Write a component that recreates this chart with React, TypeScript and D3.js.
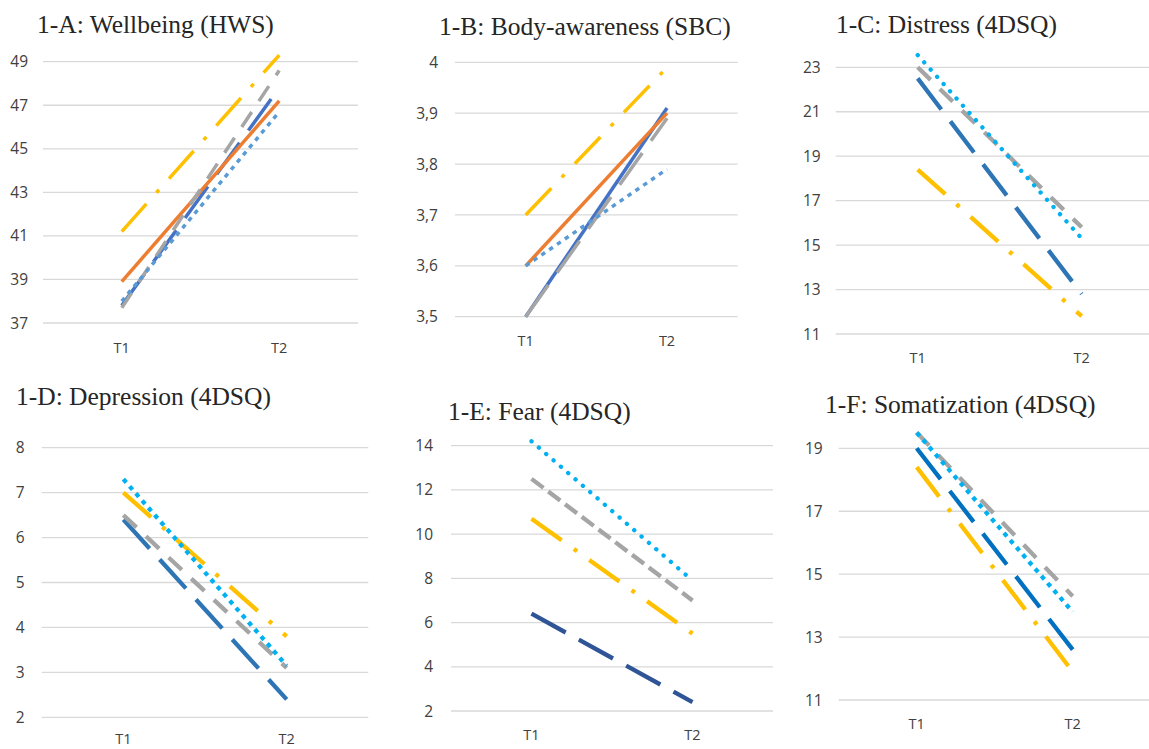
import * as d3 from "d3";

const periods = ["T1", "T2"];

// 1-A: Wellbeing (HWS)
const hwsBlue = [37.8, 47.8];
const hwsOrange = [38.9, 47.2];
const hwsGray = [37.7, 48.6];
const hwsYellow = [41.2, 49.3];
const hwsLightBlue = [38.0, 46.7];
const hwsTicks = [37, 39, 41, 43, 45, 47, 49];

// 1-B: Body-awareness (SBC)
const sbcBlue = [3.5, 3.91];
const sbcOrange = [3.6, 3.9];
const sbcGray = [3.5, 3.89];
const sbcYellow = [3.7, 3.99];
const sbcLightBlue = [3.6, 3.79];
const sbcTicks = [3.5, 3.6, 3.7, 3.8, 3.9, 4.0];

// 1-C: Distress (4DSQ)
const distressBlue = [22.5, 12.8];
const distressGray = [23.0, 15.8];
const distressYellow = [18.4, 11.8];
const distressLightBlue = [23.55, 15.3];
const distressTicks = [11, 13, 15, 17, 19, 21, 23];

// 1-D: Depression (4DSQ)
const depressionBlue = [6.4, 2.4];
const depressionGray = [6.5, 3.1];
const depressionYellow = [7.0, 3.8];
const depressionLightBlue = [7.3, 3.15];
const depressionTicks = [2, 3, 4, 5, 6, 7, 8];

// 1-E: Fear (4DSQ)
const fearBlue = [6.4, 2.4];
const fearGray = [12.5, 7.0];
const fearYellow = [10.7, 5.5];
const fearLightBlue = [14.2, 7.9];
const fearTicks = [2, 4, 6, 8, 10, 12, 14];

// 1-F: Somatization (4DSQ)
const somBlue = [19.0, 12.6];
const somGray = [19.5, 14.3];
const somYellow = [18.4, 11.9];
const somLightBlue = [19.5, 13.8];
const somTicks = [11, 13, 15, 17, 19];

// excel-ish dash patterns
const DASH = {
  lgDash: "39,15",
  dash: "18,13",
  sysDash: "15,6",
  lgDashDot: "37,15,4,15",
  sysDot: "4.5,5",
  roundDot: "0.1,9.6",
};

const serif = "'Liberation Serif', 'DejaVu Serif', serif";
const sans = "'Open Sans', 'Noto Sans', sans-serif";

type Series = { values: number[]; color: string; dash?: string; cap?: "butt" | "round" };

type Panel = {
  title: string;
  titleX: number;
  titleY: number;
  x0: number;
  x1: number;
  yTop: number;
  yBottom: number;
  domain: [number, number];
  ticks: number[];
  labelGap: number;
  catGap: number;
  width: number;
  comma?: boolean;
  series: Series[];
};

const panels: Panel[] = [
  {
    title: "1-A: Wellbeing (HWS)",
    titleX: 37, titleY: 33,
    x0: 43, x1: 358, yTop: 61.7, yBottom: 323,
    domain: [37, 49], ticks: hwsTicks, labelGap: 15, catGap: 30, width: 3.5,
    series: [
      { values: hwsBlue, color: "#4472C4", dash: DASH.lgDash },
      { values: hwsOrange, color: "#ED7D31" },
      { values: hwsGray, color: "#A5A5A5", dash: DASH.dash },
      { values: hwsYellow, color: "#FFC000", dash: DASH.lgDashDot },
      { values: hwsLightBlue, color: "#5B9BD5", dash: DASH.sysDot },
    ],
  },
  {
    title: "1-B: Body-awareness (SBC)",
    titleX: 439, titleY: 35,
    x0: 455, x1: 737.7, yTop: 62.3, yBottom: 316.7,
    domain: [3.5, 4.0], ticks: sbcTicks, labelGap: 17, catGap: 29, width: 3.5, comma: true,
    series: [
      { values: sbcBlue, color: "#4472C4" },
      { values: sbcOrange, color: "#ED7D31" },
      { values: sbcGray, color: "#A5A5A5", dash: DASH.lgDash },
      { values: sbcYellow, color: "#FFC000", dash: DASH.lgDashDot },
      { values: sbcLightBlue, color: "#5B9BD5", dash: DASH.sysDot },
    ],
  },
  {
    title: "1-C: Distress (4DSQ)",
    titleX: 836, titleY: 33,
    x0: 835.7, x1: 1163.7, yTop: 67.3, yBottom: 334,
    domain: [11, 23], ticks: distressTicks, labelGap: 15, catGap: 29, width: 4.3,
    series: [
      { values: distressBlue, color: "#2E75B6", dash: DASH.lgDash },
      { values: distressGray, color: "#A5A5A5", dash: DASH.dash },
      { values: distressYellow, color: "#FFC000", dash: DASH.lgDashDot },
      { values: distressLightBlue, color: "#00B0F0", dash: DASH.roundDot, cap: "round" },
    ],
  },
  {
    title: "1-D: Depression (4DSQ)",
    titleX: 16, titleY: 405,
    x0: 41.7, x1: 368.3, yTop: 447.7, yBottom: 717.3,
    domain: [2, 8], ticks: depressionTicks, labelGap: 17, catGap: 26.5, width: 4.3,
    series: [
      { values: depressionBlue, color: "#2E75B6", dash: DASH.lgDash },
      { values: depressionGray, color: "#A5A5A5", dash: DASH.dash },
      { values: depressionYellow, color: "#FFC000", dash: DASH.lgDashDot },
      { values: depressionLightBlue, color: "#00B0F0", dash: DASH.sysDot },
    ],
  },
  {
    title: "1-E: Fear (4DSQ)",
    titleX: 448, titleY: 420,
    x0: 451, x1: 773, yTop: 445.7, yBottom: 711,
    domain: [2, 14], ticks: fearTicks, labelGap: 18, catGap: 29, width: 4.3,
    series: [
      { values: fearBlue, color: "#2F5597", dash: DASH.lgDash },
      { values: fearGray, color: "#A5A5A5", dash: DASH.sysDash },
      { values: fearYellow, color: "#FFC000", dash: DASH.lgDashDot },
      { values: fearLightBlue, color: "#00B0F0", dash: DASH.roundDot, cap: "round" },
    ],
  },
  {
    title: "1-F: Somatization (4DSQ)",
    titleX: 825, titleY: 413,
    x0: 838.7, x1: 1150.7, yTop: 448.3, yBottom: 700,
    domain: [11, 19], ticks: somTicks, labelGap: 16, catGap: 29, width: 4.3,
    series: [
      { values: somBlue, color: "#0070C0", dash: DASH.lgDash },
      { values: somGray, color: "#A5A5A5", dash: DASH.dash },
      { values: somYellow, color: "#FFC000", dash: DASH.lgDashDot },
      { values: somLightBlue, color: "#00B0F0", dash: DASH.sysDot },
    ],
  },
];

function ChartPanel({ p }: { p: Panel }) {
  const x = d3.scalePoint<string>().domain(periods).range([p.x0, p.x1]).padding(0.5);
  const y = d3.scaleLinear().domain(p.domain).range([p.yBottom, p.yTop]);
  const line = d3
    .line<number>()
    .x((_, i) => x(periods[i]) as number)
    .y((d) => y(d));
  const fmt = (v: number) => {
    const s = d3.format("~g")(v);
    return p.comma ? s.replace(".", ",") : s;
  };

  return (
    <g>
      <text x={p.titleX} y={p.titleY} style={{ fontFamily: serif, fontSize: 25.5 }} fill="#262626">
        {p.title}
      </text>
      {p.ticks.map((t) => (
        <g key={t}>
          <line x1={p.x0} x2={p.x1} y1={y(t)} y2={y(t)} stroke="#D9D9D9" strokeWidth={1.3} />
          <text
            x={p.x0 - p.labelGap}
            y={y(t)}
            dy="0.36em"
            textAnchor="end"
            style={{ fontFamily: sans, fontSize: 15.5 }}
            fill="#404040"
          >
            {fmt(t)}
          </text>
        </g>
      ))}
      {periods.map((d) => (
        <text
          key={d}
          x={x(d)}
          y={p.yBottom + p.catGap}
          textAnchor="middle"
          style={{ fontFamily: sans, fontSize: 14.5 }}
          fill="#404040"
        >
          {d}
        </text>
      ))}
      {p.series.map((s, i) => (
        <path
          key={i}
          d={line(s.values) || ""}
          fill="none"
          stroke={s.color}
          strokeWidth={p.width}
          strokeDasharray={s.dash}
          strokeLinecap={s.cap || "butt"}
        />
      ))}
    </g>
  );
}

export default function App() {
  return (
    <svg
      width={1149}
      height={749}
      style={{ position: "absolute", left: 0, top: 0, background: "#fff" }}
    >
      {panels.map((p) => (
        <ChartPanel key={p.title} p={p} />
      ))}
    </svg>
  );
}
